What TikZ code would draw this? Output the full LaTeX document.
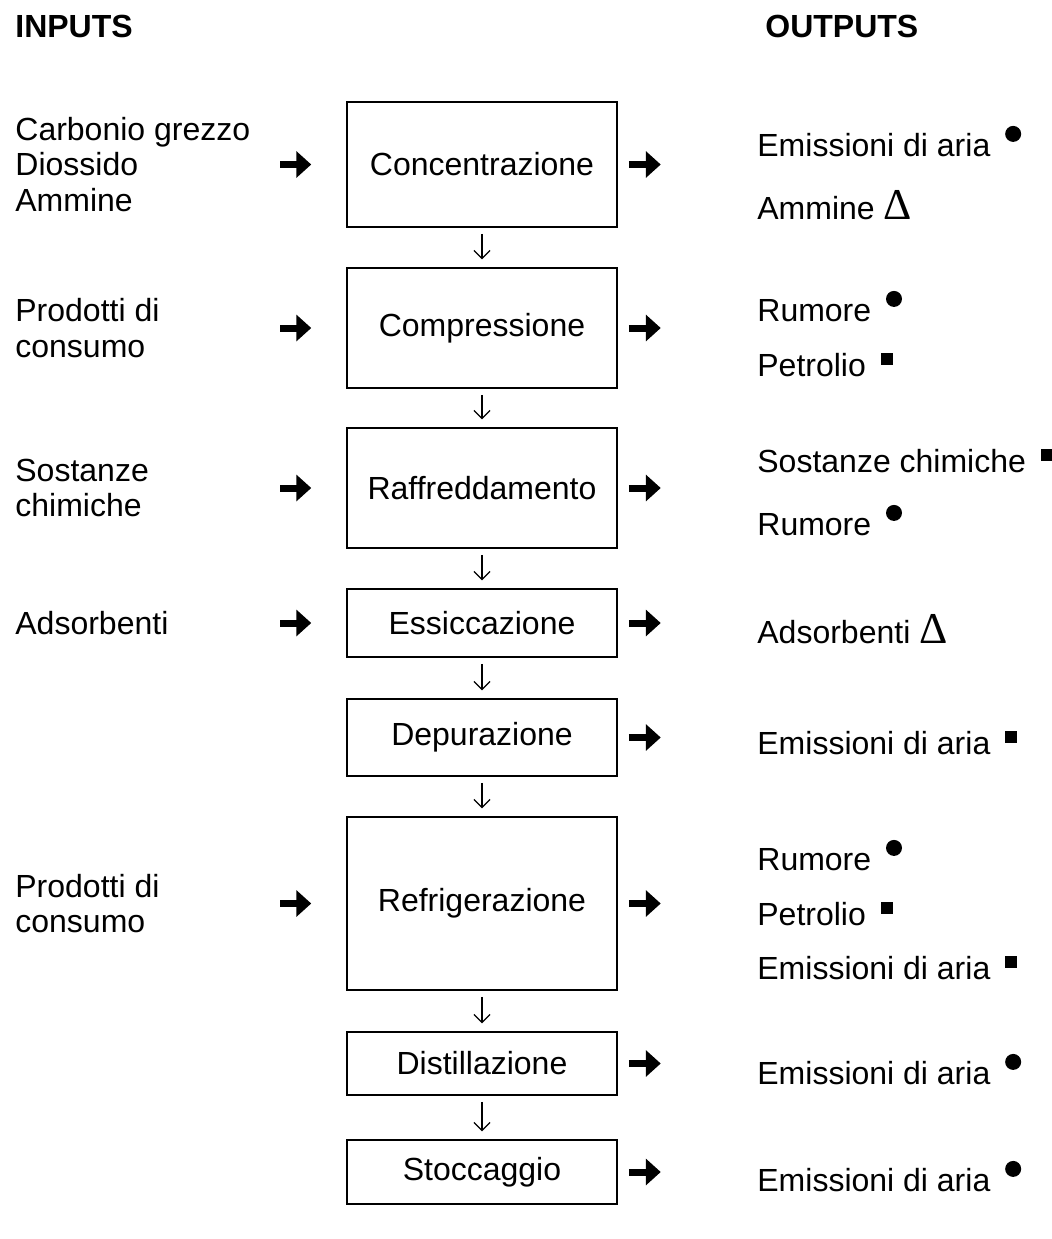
\documentclass[tikz,border=0pt]{standalone}
\usepackage{fontspec}
\setmainfont{Liberation Sans}
\newfontfamily\dltfont{Liberation Serif}
\usetikzlibrary{positioning,arrows.meta}

\tikzset{
	stepbox/.style={draw, line width=0.75pt, minimum width=135pt, inner sep=0pt, font=\fontsize{16}{17.75}\selectfont},
	lbl/.style={inner sep=0pt, align=left, font=\fontsize{16}{17.75}\selectfont},
	head/.style={inner sep=0pt, font=\fontsize{16}{17.75}\selectfont\bfseries},
	dotm/.style={circle, fill, inner sep=0pt, minimum size=8pt},
	sqm/.style={rectangle, fill, inner sep=0pt, minimum size=6pt},
	fat/.style={line width=3.5pt, -{Triangle[length=7.5pt,width=13pt]}},
	down/.style={line width=0.6pt, -{Straight Barb[length=4pt,width=8pt]}, shorten <=3pt, shorten >=4pt}
}
\newcommand{\dlt}{{\dltfont\fontsize{22}{17.75}\selectfont Δ}}

\begin{document}
\begin{tikzpicture}[x=0.5pt,y=-0.5pt]
		\useasboundingbox (0,0) rectangle (1052,1239);
		
		% Headings
		\node[head, anchor=base west] (inp) at (15,37) {INPUTS};
		\node[head, anchor=base west] (outp) at (765,37) {OUTPUTS};
		
		% Process steps
		\node[stepbox, minimum height=62.5pt] (conc) at (482,164.5) {Concentrazione};
		\node[stepbox, minimum height=60pt] (comp) at (482,328) {Compressione};
		\node[stepbox, minimum height=60pt] (raff) at (482,488) {Raffreddamento};
		\node[stepbox, minimum height=34pt] (essi) at (482,623) {Essiccazione};
		\node[stepbox, minimum height=38.5pt] (depu) at (482,737.5) {Depurazione};
		\node[stepbox, minimum height=86.5pt] (refr) at (482,903.5) {Refrigerazione};
		\node[stepbox, minimum height=31.5pt] (dist) at (482,1063.5) {Distillazione};
		\node[stepbox, minimum height=32pt] (stoc) at (482,1172) {Stoccaggio};
		
		\foreach \a/\b in {conc/comp, comp/raff, raff/essi, essi/depu, depu/refr, refr/dist, dist/stoc}
			\draw[down] (\a) -- (\b);
		
		% Inputs
		\node[lbl, anchor=west] (in1) at (15,164.5) {Carbonio grezzo\\Diossido\\Ammine};
		\node[lbl, anchor=west] (in2) at (15,328) {Prodotti di\\consumo};
		\node[lbl, anchor=west] (in3) at (15,488) {Sostanze\\chimiche};
		\node[lbl, anchor=west] (in4) at (15,623) {Adsorbenti};
		\node[lbl, anchor=west] (in5) at (15,903.5) {Prodotti di\\consumo};
		
		\foreach \n in {conc, comp, raff, essi, refr}
			\draw[fat] ([xshift=-33pt]\n.west) -- ([xshift=-17.5pt]\n.west);
		\foreach \n in {conc, comp, raff, essi, depu, refr, dist, stoc}
			\draw[fat] ([xshift=5.5pt]\n.east) -- ([xshift=21.5pt]\n.east);
		
		% Outputs
		\node[lbl, anchor=base west] (o1) at (757,156.5) {Emissioni di aria};
		\node[dotm, right=7pt of o1.base east, yshift=11.3pt] (m1) {};
		\node[lbl, anchor=base west] (o2) at (757,219.5) {Ammine \dlt};
		
		\node[lbl, anchor=base west] (o3) at (757,321.5) {Rumore};
		\node[dotm, right=7pt of o3.base east, yshift=11.3pt] (m3) {};
		\node[lbl, anchor=base west] (o4) at (757,376.5) {Petrolio};
		\node[sqm, right=7pt of o4.base east, yshift=8.75pt] (m4) {};
		
		\node[lbl, anchor=base west] (o5) at (757,472.5) {Sostanze chimiche};
		\node[sqm, right=7pt of o5.base east, yshift=8.75pt] (m5) {};
		\node[lbl, anchor=base west] (o6) at (757,535.5) {Rumore};
		\node[dotm, right=7pt of o6.base east, yshift=11.3pt] (m6) {};
		
		\node[lbl, anchor=base west] (o7) at (757,643.5) {Adsorbenti \dlt};
		
		\node[lbl, anchor=base west] (o8) at (757,754.5) {Emissioni di aria};
		\node[sqm, right=7pt of o8.base east, yshift=8.75pt] (m8) {};
		
		\node[lbl, anchor=base west] (o9) at (757,870.5) {Rumore};
		\node[dotm, right=7pt of o9.base east, yshift=11.3pt] (m9) {};
		\node[lbl, anchor=base west] (o10) at (757,925.5) {Petrolio};
		\node[sqm, right=7pt of o10.base east, yshift=8.75pt] (m10) {};
		\node[lbl, anchor=base west] (o11) at (757,979.5) {Emissioni di aria};
		\node[sqm, right=7pt of o11.base east, yshift=8.75pt] (m11) {};
		
		\node[lbl, anchor=base west] (o12) at (757,1084.5) {Emissioni di aria};
		\node[dotm, right=7pt of o12.base east, yshift=11.3pt] (m12) {};
		
		\node[lbl, anchor=base west] (o13) at (757,1191.5) {Emissioni di aria};
		\node[dotm, right=7pt of o13.base east, yshift=11.3pt] (m13) {};
		
\end{tikzpicture}
\end{document}
